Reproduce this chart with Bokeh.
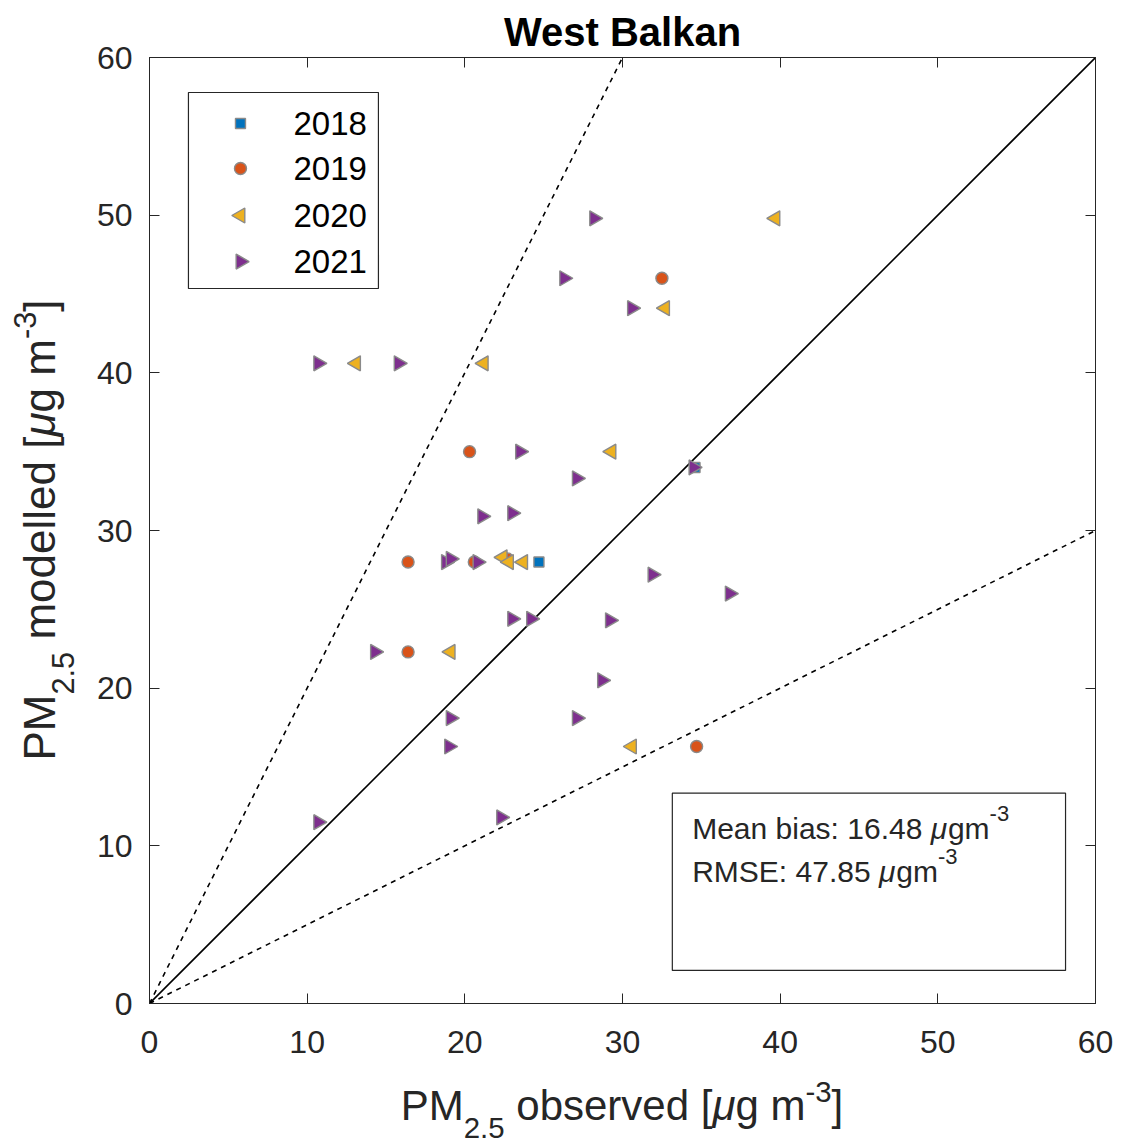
import math
from bokeh.plotting import figure
from bokeh.models import (Range1d, LinearAxis, Label, BoxAnnotation, FixedTicker,
                          ColumnDataSource, Div)
from bokeh.layouts import column, row
from bokeh.embed import file_html
from bokeh.resources import INLINE

# ---------------- data ----------------
years = ["2018", "2019", "2020", "2021"]
obs_2018 = [24.7, 34.6]
mod_2018 = [28.0, 34.0]
obs_2019 = [32.5, 20.3, 16.4, 20.6, 22.7, 16.4, 34.7]
mod_2019 = [46.0, 35.0, 28.0, 28.0, 28.2, 22.3, 16.3]
obs_2020 = [39.7, 32.7, 13.1, 21.2, 29.3, 22.4, 22.8, 23.7, 19.1, 30.6]
mod_2020 = [49.8, 44.1, 40.6, 40.6, 35.0, 28.3, 28.0, 28.0, 22.3, 16.3]
obs_2021 = [28.2, 26.3, 30.6, 10.7, 15.8, 23.5, 27.1, 21.1, 23.0, 18.8, 19.1,
            20.8, 34.5, 31.9, 36.8, 23.0, 24.2, 29.2, 14.3, 28.7, 19.1, 27.1,
            19.0, 10.7, 22.3]
mod_2021 = [49.8, 46.0, 44.1, 40.6, 40.6, 35.0, 33.3, 30.9, 31.1, 28.0, 28.2,
            28.0, 34.0, 27.2, 26.0, 24.4, 24.4, 24.3, 22.3, 20.5, 18.1, 18.1,
            16.3, 11.5, 11.8]
ticks = [0, 10, 20, 30, 40, 50, 60]
ref_x = [0, 60]
ref_1to1 = [0, 60]
ref_2to1 = [0, 120]
ref_1to2 = [0, 30]
mean_bias = "16.48"
rmse = "47.85"
title = "West Balkan"
x_label_word = "observed"
y_label_word = "modelled"

# ---------------- styling ----------------
FONT = "Liberation Sans"
DARK = "#262626"
colors = {"2018": "#0072BD", "2019": "#D95319", "2020": "#EDB120", "2021": "#7E2F8E"}
EDGE = "#8a8a8a"

# Arial / Liberation Sans advance widths (per 1000 em)
WID = {" ": 278, ":": 278, ".": 278, "-": 333, "[": 278, "]": 278,
       "M": 833, "R": 722, "S": 667, "E": 667, "e": 556, "a": 556, "n": 556,
       "b": 556, "i": 222, "s": 500, "g": 556, "m": 833, "μ": 576}


def tw(s, size):
    return sum(WID.get(c, 556) for c in s) / 1000.0 * size


# page geometry: frame spans x 149..1095, y 57..1003
YLAB_W = 78
P_W = 1037
P_H = 1065
XLAB_H = 74

p = figure(width=P_W, height=P_H, x_range=Range1d(0, 60), y_range=Range1d(0, 60),
           output_backend="svg", toolbar_location=None,
           min_border_left=149 - YLAB_W, min_border_right=P_W - (1095 - YLAB_W),
           min_border_top=57, min_border_bottom=P_H - 1003, margin=0)
p.grid.visible = False
p.outline_line_color = DARK
p.outline_line_width = 1
p.background_fill_color = "white"
p.border_fill_color = "white"

p.title.text = title
p.title.text_font = FONT
p.title.text_font_size = "40px"
p.title.text_font_style = "bold"
p.title.text_color = "black"
p.title.align = "center"
p.title.standoff = 8

for ax in (p.xaxis[0], p.yaxis[0]):
    ax.ticker = FixedTicker(ticks=ticks)
    ax.major_tick_in = 10
    ax.major_tick_out = 0
    ax.minor_tick_in = 0
    ax.minor_tick_out = 0
    ax.axis_line_color = DARK
    ax.major_tick_line_color = DARK
    ax.major_label_text_font = FONT
    ax.major_label_text_font_size = "32px"
    ax.major_label_text_color = DARK
p.xaxis[0].major_label_standoff = 27
p.yaxis[0].major_label_standoff = 17

for loc in ("above", "right"):
    ax = LinearAxis(ticker=FixedTicker(ticks=ticks), major_tick_in=10, major_tick_out=0,
                    minor_tick_in=0, minor_tick_out=0, axis_line_color=DARK,
                    major_tick_line_color=DARK, major_label_standoff=0,
                    major_label_overrides={float(t): "" for t in ticks})
    p.add_layout(ax, loc)

# reference lines
p.line(ref_x, ref_1to1, line_color="black", line_width=1.6)
p.line(ref_x, ref_2to1, line_color="black", line_width=1.6, line_dash="5 5")
p.line(ref_x, ref_1to2, line_color="black", line_width=1.6, line_dash="5 5")

series = [
    ("2018", obs_2018, mod_2018, "square", 0.0, 10),
    ("2019", obs_2019, mod_2019, "circle", 0.0, 12),
    ("2020", obs_2020, mod_2020, "triangle", math.pi / 2, 15),
    ("2021", obs_2021, mod_2021, "triangle", -math.pi / 2, 15),
]
for yr, xs, ys, mk, ang, sz in series:
    src = ColumnDataSource(dict(x=xs, y=ys))
    p.scatter("x", "y", source=src, marker=mk, angle=ang, size=sz,
              fill_color=colors[yr], line_color=EDGE, line_width=1.4)

# ---------------- legend (keys drawn with the same marker specs) ----------------
LEG_LEFT, LEG_RIGHT, LEG_TOP, LEG_BOTTOM = 2.47, 14.52, 57.78, 45.35
LEG_KEY_X, LEG_TEXT_X = 5.77, 9.13
LEG_ROWS = [55.81, 52.96, 49.98, 47.06]
p.add_layout(BoxAnnotation(left=LEG_LEFT, right=LEG_RIGHT, top=LEG_TOP, bottom=LEG_BOTTOM,
                           fill_color="white", fill_alpha=1, line_color=DARK,
                           line_alpha=1, line_width=1.2, level="underlay"))
for (yr, xs, ys, mk, ang, sz), ry in zip(series, LEG_ROWS):
    p.scatter([LEG_KEY_X], [ry], marker=mk, angle=ang, size=sz,
              fill_color=colors[yr], line_color=EDGE, line_width=1.4)
    p.add_layout(Label(x=LEG_TEXT_X, y=ry, text=yr, text_font=FONT,
                       text_font_size="33px", text_color="black",
                       text_align="left", text_baseline="middle"))


# ---------------- statistics box ----------------
def run(pieces, x, y):
    off = 0.0
    for t, s, dy, style in pieces:
        p.add_layout(Label(x=x, y=y, x_offset=off, y_offset=dy, text=t,
                           text_font=FONT, text_font_size=f"{s}px",
                           text_font_style=style, text_color=DARK,
                           text_align="left", text_baseline="alphabetic"))
        off += tw(t, s)


def stat_pieces(lbl, val, S):
    s = round(S * 0.72)
    return [(f"{lbl}: {val} ", S, 0, "normal"), ("μ", S, 0, "italic"),
            ("gm", S, 0, "normal"), ("-3", s, 0.5 * S, "normal")]


p.add_layout(BoxAnnotation(left=33.16, right=58.1, top=13.34, bottom=2.1,
                           fill_color="white", fill_alpha=1, line_color=DARK,
                           line_alpha=1, line_width=1.2, level="underlay"))
run(stat_pieces("Mean bias", mean_bias, 30), 34.42, 11.1)
run(stat_pieces("RMSE", rmse, 30), 34.42, 8.4)


# ---------------- axis labels (HTML text) ----------------
def label_html(word):
    return (f"PM<span style='position:relative; top:0.62em; font-size:0.7em;'>2.5</span>"
            f" {word} [<i>&mu;</i>g m"
            f"<span style='position:relative; top:-0.62em; font-size:0.7em;'>-3</span>]")


ylab_div = Div(width=YLAB_W, height=P_H, margin=0, text=(
    f"<div style='position:relative; width:{YLAB_W}px; height:{P_H}px;'>"
    f"<span style='position:absolute; left:18px; top:530px;"
    f" transform-origin:0 0; transform:rotate(-90deg) translateX(-50%);"
    f" white-space:nowrap; font-family:\"{FONT}\"; font-size:44px; line-height:44px;"
    f" color:{DARK};'>{label_html(y_label_word)}</span></div>"))

xlab_div = Div(width=YLAB_W + P_W, height=XLAB_H, margin=0, text=(
    f"<div style='position:relative; width:{YLAB_W + P_W}px; height:{XLAB_H}px;'>"
    f"<span style='position:absolute; left:622px; top:{1120 - P_H - 35}px;"
    f" transform:translateX(-50%); white-space:nowrap; font-family:\"{FONT}\";"
    f" font-size:42px; line-height:42px; color:{DARK};'>"
    f"{label_html(x_label_word)}</span></div>"))

layout = column(row(ylab_div, p, spacing=0), xlab_div, spacing=0)

open("out.html", "w").write(file_html(layout, INLINE))
